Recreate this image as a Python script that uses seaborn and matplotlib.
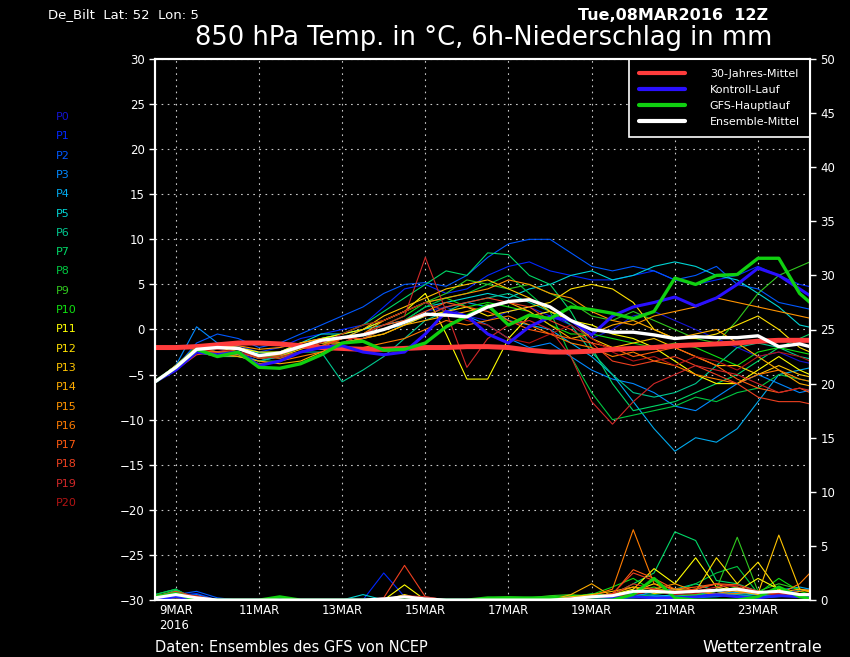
import numpy as np
import pandas as pd
import matplotlib
matplotlib.use("Agg")
import matplotlib.pyplot as plt
import seaborn as sns

sns.set_theme(style="dark")
plt.rcParams['font.family'] = ['DejaVu Sans']

# ---------------- data (12-hourly from 08MAR2016 12Z) ----------------
HOURS = list(range(0, 385, 12))

MEMBER_NAMES = ["P%d" % i for i in range(21)]
MEMBER_COLORS = ["#1414d2", "#0028ff", "#0058ff", "#0088ff", "#00aaee", "#00d4d4",
                 "#00c890", "#00d868", "#00c840", "#30c81e", "#10e010", "#ffff00",
                 "#ffe000", "#ffc400", "#ffac00", "#ff9400", "#ff7c00", "#ff5a10",
                 "#ee4020", "#d02828", "#b41414"]

TEMP_P0 = [-5.8,-4.5,-2.5,-2.2,-2.5,-3.5,-3.0,-2.0,-1.5,-1.0,-0.5,0.5,1.0,2.0,2.5,1.5,1.0,2.0,2.5,1.5,0.5,-1.0,0.0,1.5,2.0,1.0,0.0,-1.0,-2.0,-3.0,-2.5,-3.5,-4.0]
TEMP_P1 = [-5.8,-4.0,-2.0,-1.5,-1.8,-2.5,-2.0,-1.0,-0.5,0.0,0.5,2.5,4.5,5.0,4.0,4.5,6.0,7.0,7.5,6.5,6.0,5.5,5.5,6.0,6.5,5.5,5.0,5.5,6.0,7.0,6.0,5.0,4.5]
TEMP_P2 = [-5.8,-4.2,-1.5,-0.5,-1.0,-2.0,-1.5,-0.5,0.5,1.5,2.5,4.0,5.0,5.2,4.8,6.0,8.0,9.5,10.0,10.0,8.5,7.0,6.5,7.0,6.5,5.5,6.0,7.0,5.0,4.5,3.0,2.5,2.0]
TEMP_P3 = [-5.8,-4.0,0.3,-1.5,-2.0,-3.0,-2.5,-2.0,-1.5,-1.0,0.0,1.0,2.0,3.0,2.0,1.5,0.5,-1.0,-2.0,-1.5,-3.0,-4.5,-5.5,-6.0,-7.0,-8.5,-9.0,-7.5,-6.0,-5.0,-6.0,-7.0,-6.5]
TEMP_P4 = [-5.8,-4.5,-2.5,-2.5,-2.8,-3.5,-3.0,-2.5,-2.0,-1.5,-1.0,0.0,0.5,1.5,2.5,3.0,2.5,1.0,0.5,0.0,-1.5,-3.0,-5.0,-8.0,-11.0,-13.5,-12.0,-12.5,-11.0,-8.0,-5.0,-4.5,-4.0]
TEMP_P5 = [-5.8,-4.0,-2.0,-2.2,-2.0,-2.6,-2.5,-1.5,-0.5,-0.5,0.0,0.5,1.0,2.5,3.0,3.5,4.0,3.5,4.5,5.0,6.0,6.5,5.5,6.0,7.0,7.5,7.0,6.0,5.5,4.0,2.5,0.5,0.0]
TEMP_P6 = [-5.8,-4.5,-2.5,-3.0,-3.0,-3.5,-3.0,-2.5,-2.5,-5.8,-4.5,-3.0,-1.0,1.0,2.0,3.0,3.5,4.0,3.0,2.0,0.5,-2.5,-5.0,-7.0,-7.5,-7.0,-6.0,-4.0,-2.0,-1.5,-2.0,-3.0,-3.5]
TEMP_P7 = [-5.8,-4.0,-2.0,-2.5,-2.5,-3.2,-3.0,-2.0,-1.0,-0.5,0.5,2.0,3.5,5.0,6.5,6.0,8.5,8.3,6.0,5.0,2.0,-2.0,-6.0,-9.0,-8.5,-8.0,-7.0,-6.0,-5.0,-3.5,-2.0,-1.0,0.0]
TEMP_P8 = [-5.8,-4.5,-2.0,-2.5,-3.0,-3.5,-3.5,-2.5,-2.0,-1.5,-1.0,0.0,1.0,2.5,3.5,4.0,5.0,6.0,4.0,2.0,-3.0,-7.0,-10.0,-9.5,-9.0,-8.5,-7.5,-8.0,-7.0,-6.5,-5.0,-5.5,-6.0]
TEMP_P9 = [-5.8,-4.2,-1.8,-2.0,-2.2,-3.0,-2.8,-2.0,-1.0,-0.5,0.5,1.0,2.0,3.0,4.0,5.5,5.0,4.5,5.0,4.0,3.0,1.5,1.0,2.0,1.0,0.0,-1.0,-1.5,1.0,4.0,6.0,7.0,8.0]
TEMP_P10 = [-5.8,-4.0,-2.3,-2.0,-2.0,-2.8,-3.2,-2.5,-1.8,-1.0,-0.5,0.5,1.5,3.0,3.5,2.5,3.0,2.5,2.0,0.5,-0.5,-0.5,-1.0,-1.5,-2.0,-1.5,-2.0,-3.0,-4.0,-2.5,-2.0,-2.5,-3.0]
TEMP_P11 = [-5.8,-4.5,-2.5,-1.8,-2.0,-2.5,-2.5,-1.5,-1.0,-0.5,0.0,1.0,2.0,4.0,-0.5,-5.5,-5.5,-1.0,1.5,2.0,1.0,0.5,-0.5,-1.0,-2.0,-3.5,-5.0,-6.0,-6.0,-4.5,-3.0,-4.5,-5.5]
TEMP_P12 = [-5.8,-4.0,-2.0,-2.5,-2.2,-2.8,-2.8,-2.0,-1.5,-1.5,-1.0,-0.5,0.5,1.5,2.0,2.5,1.5,2.0,2.5,3.0,4.5,5.0,4.5,3.0,0.0,-1.0,-1.0,-0.5,0.5,1.5,0.0,-2.0,-3.0]
TEMP_P13 = [-5.8,-4.3,-2.2,-2.0,-2.5,-3.2,-3.0,-2.2,-1.5,-1.0,0.0,1.5,2.5,3.5,4.5,5.0,5.5,4.5,3.5,2.0,1.0,-1.0,-2.0,-1.5,-1.0,-2.0,-3.0,-4.0,-4.0,-5.0,-4.0,-5.0,-5.5]
TEMP_P14 = [-5.8,-4.0,-2.0,-2.8,-3.0,-3.5,-3.8,-3.5,-2.5,-1.5,-1.0,-0.5,0.5,1.0,1.5,2.0,2.5,3.0,2.0,0.5,-1.0,-0.5,0.5,1.0,0.0,-1.0,-0.5,0.0,-1.5,-3.0,-4.5,-6.0,-6.5]
TEMP_P15 = [-5.8,-4.5,-2.5,-2.0,-1.8,-2.2,-2.0,-1.5,-1.0,-1.5,-0.5,1.0,2.0,3.0,3.5,4.0,4.5,5.5,5.0,4.0,3.5,2.0,1.0,0.5,1.5,2.0,2.5,3.5,3.0,2.5,2.0,1.5,1.0]
TEMP_P16 = [-5.8,-4.2,-2.5,-3.0,-2.8,-3.8,-3.5,-3.0,-2.5,-2.0,-2.0,-1.5,-1.0,0.0,1.0,0.5,1.0,1.5,0.5,-0.5,-1.5,-2.0,-3.0,-2.5,-3.5,-4.0,-5.0,-5.5,-6.0,-5.0,-4.5,-5.5,-6.0]
TEMP_P17 = [-5.8,-4.0,-2.3,-2.5,-2.5,-3.0,-2.8,-2.0,-1.8,-1.0,-0.5,0.5,1.0,2.0,3.0,2.5,2.0,1.0,0.0,-0.5,-1.0,-1.5,-2.0,-3.0,-2.5,-2.0,-3.0,-4.0,-5.5,-6.5,-7.0,-6.5,-7.5]
TEMP_P18 = [-5.8,-4.5,-2.8,-2.5,-2.2,-3.0,-3.2,-2.5,-2.0,-1.0,-1.0,0.0,1.0,1.5,2.5,3.0,3.5,3.0,2.5,1.0,0.0,-1.5,-3.5,-4.0,-3.5,-3.0,-4.0,-5.0,-6.0,-7.5,-8.0,-8.0,-8.5]
TEMP_P19 = [-5.8,-4.2,-2.5,-2.8,-2.5,-3.2,-3.0,-2.5,-2.0,-1.5,-0.5,0.5,1.5,8.0,2.0,-4.2,-1.0,0.5,1.0,0.0,-3.0,-8.0,-10.5,-8.0,-6.0,-5.0,-4.0,-4.5,-5.0,-6.0,-7.0,-6.5,-7.0]
TEMP_P20 = [-5.8,-4.5,-2.5,-2.2,-2.5,-3.0,-2.5,-2.0,-1.5,-0.5,0.5,1.0,2.0,3.0,2.0,1.0,0.5,-1.0,-1.5,-0.5,0.5,-1.0,-2.5,-3.5,-3.0,-4.0,-3.0,-3.5,-4.5,-3.0,-2.5,-3.0,-4.0]

TEMP_CONTROL = [-5.8,-4.5,-2.5,-2.8,-2.5,-4.0,-3.5,-2.5,-2.0,-1.8,-2.5,-2.8,-2.5,-0.5,2.0,1.5,-0.5,-1.5,0.3,1.4,1.0,-0.6,1.5,2.5,3.0,3.6,2.6,3.5,5.0,6.8,6.0,4.5,3.0]
TEMP_OPER = [-5.8,-4.2,-2.2,-3.0,-2.5,-4.2,-4.3,-3.8,-2.8,-1.5,-1.3,-2.3,-2.2,-1.5,0.3,1.5,2.7,0.5,1.6,1.2,2.5,2.2,1.8,1.2,2.0,5.7,5.0,6.0,6.1,7.9,7.9,4.0,2.0]
TEMP_MEAN = [-5.8,-4.2,-2.2,-2.0,-2.1,-2.9,-2.6,-1.9,-1.2,-0.9,-0.6,0.0,0.8,1.7,1.6,1.4,2.5,3.1,3.3,2.5,1.0,0.0,-0.3,-0.3,-0.6,-1.0,-0.8,-0.9,-0.9,-0.7,-1.9,-1.6,-2.2]
TEMP_CLIMATE = [-2.0,-2.0,-1.9,-1.7,-1.5,-1.5,-1.6,-1.8,-2.0,-2.1,-2.2,-2.2,-2.1,-2.0,-2.0,-1.9,-1.9,-2.0,-2.3,-2.5,-2.5,-2.4,-2.2,-2.1,-2.0,-1.8,-1.7,-1.6,-1.5,-1.3,-1.2,-1.2,-1.2]

PREC_P0 = [0,0.3,0,0,0,0,0,0,0,0,0,0,0,0,0,0,0,0,0,0,0,0,0,0.3,0.5,0.3,0.2,0.5,0.8,0.4,0.6,0.3,0.2]
PREC_P1 = [0,0.4,0.6,0,0,0,0,0,0,0,0,2.5,0.3,0,0,0,0,0,0,0,0,0,0.2,0.5,0.3,0.2,0.4,0.8,0.5,0.3,0.6,0.9,1.2]
PREC_P2 = [0,0.5,0.8,0.2,0,0,0,0,0,0,0,0.2,0,0,0,0,0,0,0,0,0,0,0,0.3,0.2,0.4,0.2,0.3,0.5,0.2,0.3,0.5,0.4]
PREC_P3 = [0,0.3,0.5,0,0,0,0,0,0,0,0,0,0,0,0,0,0,0,0,0.1,0.2,0.3,0.5,0.6,0.4,0.3,0.5,0.8,1.0,0.6,0.8,0.5,0.3]
PREC_P4 = [0,0.5,0.3,0,0,0,0,0,0,0,0,0,0,0,0,0,0,0,0,0,0,0,0.1,0.3,0.8,1.0,0.5,0.6,0.7,0.5,0.9,1.2,0.8]
PREC_P5 = [0.2,0.8,0.2,0,0,0,0,0,0,0,0.5,0,0,0,0,0,0,0,0,0,0,0,0.2,0.2,0.3,0.5,0.3,0.4,0.6,0.5,0.4,0.3,0.2]
PREC_P6 = [0.5,1.0,0,0,0,0,0,0,0,0,0,0,0,0,0,0,0,0,0.1,0.2,0.3,0.5,0.5,0.8,0.6,1.0,1.5,0.8,0.5,0.3,0.6,0.4,0.3]
PREC_P7 = [0.3,0.9,0,0,0,0,0,0,0,0,0,0,0,0,0,0,0,0,0,0.2,0.3,0.2,0.5,1.5,2.5,6.3,5.5,1.8,1.5,0.8,0.6,0.5,0.3]
PREC_P8 = [0.5,1.0,0,0,0,0,0.3,0,0,0,0,0,0,0,0,0,0,0,0,0,0.2,0.6,0.4,0.3,0.5,0.8,1.5,2.5,3.1,0.6,0.5,0.3,0.2]
PREC_P9 = [0.2,0.5,0,0,0,0,0,0,0,0,0,0,0,0,0,0,0.2,0.3,0.2,0.4,0.5,0.3,0.5,0.8,1.2,0.6,0.5,1.0,5.8,0.8,1.5,1.0,0.5]
PREC_P10 = [0.3,0.8,0,0,0,0,0.2,0,0,0,0,0,0,0,0,0,0.2,0.2,0.2,0.3,0.4,0.5,1.2,2.0,0.8,0.5,0.4,0.8,1.2,0.6,2.0,0.8,0.3]
PREC_P11 = [0,0.4,0,0,0,0,0,0,0,0,0,0,1.4,0,0,0,0,0,0,0,0,0.3,0.5,1.0,2.9,1.5,3.9,1.2,0.8,2.0,1.0,0.5,0.3]
PREC_P12 = [0,0.3,0,0,0,0,0,0,0,0,0,0,0.5,0,0,0,0,0,0,0,0,0.2,0.3,0.8,1.5,1.0,0.8,3.9,1.5,3.5,0.8,0.6,0.4]
PREC_P13 = [0,0.2,0,0,0,0,0,0,0,0,0,0,0.2,0,0,0,0,0,0,0,0.3,0.5,0.8,1.2,0.6,0.8,1.0,1.5,0.8,0.6,6.0,1.0,0.5]
PREC_P14 = [0.2,0.5,0,0,0,0,0,0,0,0,0,0,0,0,0,0,0,0,0,0,0.5,1.5,0.3,0.5,1.0,0.8,0.6,1.0,0.8,0.5,0.7,1.0,0.8]
PREC_P15 = [0.3,0.6,0.2,0,0,0,0,0,0,0,0,0,0,0,0,0,0,0,0,0,0.2,0.3,0.6,1.2,1.0,1.5,0.8,0.6,0.9,0.7,0.5,0.8,1.0]
PREC_P16 = [0.4,0.7,0,0,0,0,0,0,0,0,0,0,0.3,0,0,0,0,0,0,0,0.2,0.4,1.0,6.5,1.5,0.6,0.8,0.5,0.6,0.8,0.5,1.5,3.5]
PREC_P17 = [0.2,0.6,0.3,0,0,0,0,0,0,0,0,0,0.2,0,0,0,0,0,0,0,0.1,0.3,0.5,2.8,2.0,1.0,1.2,1.5,1.4,0.8,0.6,0.5,0.8]
PREC_P18 = [0.3,0.8,0.3,0,0,0,0,0,0,0,0,0.2,3.2,0.3,0,0,0,0,0,0,0,0.2,0.6,2.5,1.8,0.8,1.0,1.5,1.2,0.7,0.5,0.4,0.6]
PREC_P19 = [0.2,0.5,0.4,0,0,0,0,0,0,0,0,0,0.4,0.3,0,0,0.2,0,0,0,0,0.2,0.5,1.5,1.0,0.6,0.8,1.2,1.4,0.8,0.6,0.3,0.4]
PREC_P20 = [0.2,0.4,0.2,0,0,0,0,0,0,0,0,0,0,0,0,0,0,0,0,0,0.2,0.2,0.3,0.5,0.8,0.5,0.6,0.9,1.0,0.6,0.5,0.3,0.2]

PREC_CONTROL = [0,0.3,0,0,0,0,0,0,0,0,0,0,0,0,0,0,0,0,0,0,0,0,0.2,0.3,0.2,0.2,0.3,0.5,0.3,0.2,0.4,0.3,0.2]
PREC_OPER = [0.3,0.6,0,0,0,0,0.3,0,0,0,0,0,0,0,0,0,0.2,0.2,0.2,0.2,0,0,0,0.5,2.0,0.2,0,0,0,0.3,1.2,0.3,0]
PREC_MEAN = [0.2,0.5,0.2,0,0,0,0,0,0,0,0,0.1,0.3,0.1,0,0,0,0,0,0,0.1,0.3,0.4,0.8,0.8,0.7,0.8,0.9,1.0,0.7,0.8,0.5,0.5]

TEMP_MEMBERS = [TEMP_P0, TEMP_P1, TEMP_P2, TEMP_P3, TEMP_P4, TEMP_P5, TEMP_P6, TEMP_P7,
                TEMP_P8, TEMP_P9, TEMP_P10, TEMP_P11, TEMP_P12, TEMP_P13, TEMP_P14,
                TEMP_P15, TEMP_P16, TEMP_P17, TEMP_P18, TEMP_P19, TEMP_P20]
PREC_MEMBERS = [PREC_P0, PREC_P1, PREC_P2, PREC_P3, PREC_P4, PREC_P5, PREC_P6, PREC_P7,
                PREC_P8, PREC_P9, PREC_P10, PREC_P11, PREC_P12, PREC_P13, PREC_P14,
                PREC_P15, PREC_P16, PREC_P17, PREC_P18, PREC_P19, PREC_P20]

X_TICK_HOURS = [12, 60, 108, 156, 204, 252, 300, 348]
X_TICK_LABELS = ["9MAR\n2016", "11MAR", "13MAR", "15MAR", "17MAR", "19MAR", "21MAR", "23MAR"]

# ---------------- build tables ----------------
rows = []
for name, t, p in zip(MEMBER_NAMES, TEMP_MEMBERS, PREC_MEMBERS):
    for h, tv, pv in zip(HOURS, t, p):
        rows.append((name, h, tv, pv))
members = pd.DataFrame(rows, columns=["member", "hour", "temp", "prec"])
main = pd.DataFrame({"hour": HOURS, "control": TEMP_CONTROL, "oper": TEMP_OPER,
                     "mean": TEMP_MEAN, "climate": TEMP_CLIMATE,
                     "p_control": PREC_CONTROL, "p_oper": PREC_OPER, "p_mean": PREC_MEAN})
palette = dict(zip(MEMBER_NAMES, MEMBER_COLORS))

# ---------------- figure ----------------
fig = plt.figure(figsize=(8.5, 6.57), dpi=100, facecolor="black")
ax = fig.add_axes([155/850, 1-600/657, 655/850, 541/657])
ax.set_facecolor("black")
ax2 = ax.twinx()
ax2.patch.set_visible(False)

# precipitation on right axis
sns.lineplot(data=members, x="hour", y="prec", hue="member", palette=palette,
             linewidth=0.8, legend=False, estimator=None, ax=ax2)
sns.lineplot(data=main, x="hour", y="p_control", color="#2020ff", linewidth=2.0, ax=ax2)
sns.lineplot(data=main, x="hour", y="p_oper", color="#10d010", linewidth=2.2, ax=ax2)
sns.lineplot(data=main, x="hour", y="p_mean", color="white", linewidth=2.2, ax=ax2)

# temperature on left axis
sns.lineplot(data=members, x="hour", y="temp", hue="member", palette=palette,
             linewidth=0.8, legend=False, estimator=None, ax=ax)
sns.lineplot(data=main, x="hour", y="climate", color="#ff3c3c", linewidth=3.6,
             label="30-Jahres-Mittel", ax=ax)
sns.lineplot(data=main, x="hour", y="control", color="#2a10ff", linewidth=2.2,
             label="Kontroll-Lauf", ax=ax)
sns.lineplot(data=main, x="hour", y="oper", color="#10d010", linewidth=2.4,
             label="GFS-Hauptlauf", ax=ax)
sns.lineplot(data=main, x="hour", y="mean", color="white", linewidth=2.4,
             label="Ensemble-Mittel", ax=ax)

ax.set_xlim(0, 378)
ax.set_ylim(-30, 30)
ax2.set_ylim(0, 50)
ax.set_yticks(np.arange(-30, 31, 5))
ax2.set_yticks(np.arange(0, 51, 5))
ax.set_xticks(X_TICK_HOURS)
ax.set_xticklabels(X_TICK_LABELS)
ax.set_xlabel("")
ax.set_ylabel("")
ax2.set_ylabel("")

ax.grid(True, color="#c8c8c8", linestyle=(0, (1.5, 4)), linewidth=0.8)
ax2.grid(False)
for a in (ax, ax2):
    for s in a.spines.values():
        s.set_color("white")
        s.set_linewidth(1.5)
    a.tick_params(colors="white", labelcolor="white", labelsize=8.5, length=4, width=1)
ax.tick_params(axis="x", direction="in", length=4, pad=3)
for lab in ax.get_xticklabels():
    lab.set_horizontalalignment("center")
    lab.set_multialignment("left")

leg = ax.legend(loc="upper right", borderaxespad=0, frameon=True, fontsize=8,
                handlelength=4.2, handletextpad=2.2, labelspacing=0.55,
                borderpad=0.9, fancybox=False)
leg.get_frame().set_facecolor("black")
leg.get_frame().set_edgecolor("white")
leg.get_frame().set_linewidth(1.2)
leg.get_frame().set_alpha(1)
for txt in leg.get_texts():
    txt.set_color("white")
for line in leg.get_lines():
    line.set_linewidth(3)

# member labels on the left
for i, (name, col) in enumerate(zip(MEMBER_NAMES, MEMBER_COLORS)):
    fig.text(56/850, 1 - (117 + i*19.3)/657, name, color=col, fontsize=8,
             ha="left", va="center")

fig.text(48/850, 1-15/657, "De_Bilt  Lat: 52  Lon: 5", color="white", fontsize=9.5,
         ha="left", va="center")
fig.text(578/850, 1-15/657, "Tue,08MAR2016  12Z", color="white", fontsize=11.5,
         fontweight="bold", ha="left", va="center")
fig.text(484/850, 1-38/657, "850 hPa Temp. in °C, 6h-Niederschlag in mm", color="white",
         fontsize=18.5, ha="center", va="center")
fig.text(155/850, 1-647/657, "Daten: Ensembles des GFS von NCEP", color="white",
         fontsize=10.5, ha="left", va="center")
fig.text(822/850, 1-647/657, "Wetterzentrale", color="white", fontsize=11.5,
         ha="right", va="center")

fig.savefig("out.png", dpi=100, facecolor="black")
